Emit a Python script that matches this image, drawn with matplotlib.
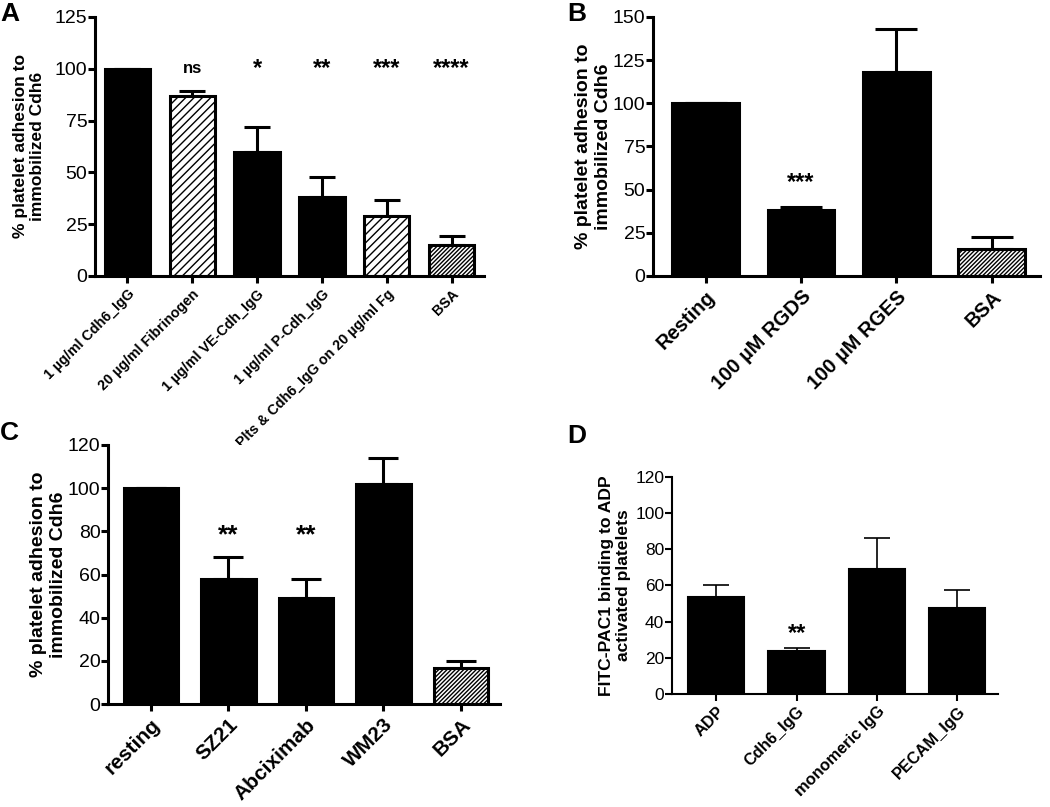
import numpy as np
import matplotlib
matplotlib.use("Agg")
import matplotlib.pyplot as plt

plt.rcParams['font.family'] = ['Liberation Sans', 'DejaVu Sans']
plt.rcParams['hatch.linewidth'] = 1.0

# panel A
a_labels = ['1 µg/ml Cdh6_IgG', '20 µg/ml Fibrinogen', '1 µg/ml VE-Cdh_IgG',
            '1 µg/ml P-Cdh_IgG', 'Plts & Cdh6_IgG on 20 µg/ml Fg', 'BSA']
a_values = [100, 87, 60, 38, 29, 15]
a_err = [0, 2.5, 12, 10, 7.5, 4.5]
a_stars = ['', 'ns', '*', '**', '***', '****']
a_hatch = ['', '////', '', '', '////', '////////']

# panel B
b_labels = ['Resting', '100 µM RGDS', '100 µM RGES', 'BSA']
b_values = [100, 38.5, 118, 15.5]
b_err = [0, 1.5, 25, 7]
b_stars = ['', '***', '', '']
b_hatch = ['', '', '', '////////']

# panel C
c_labels = ['resting', 'SZ21', 'Abciximab', 'WM23', 'BSA']
c_values = [100, 58, 49, 102, 16.5]
c_err = [0, 10, 9, 12, 3.5]
c_stars = ['', '**', '**', '', '']
c_hatch = ['', '', '', '', '////////']

# panel D
d_labels = ['ADP', 'Cdh6_IgG', 'monomeric IgG', 'PECAM_IgG']
d_values = [53.5, 24, 69, 47.5]
d_err = [7, 1.5, 17, 10]
d_stars = ['', '**', '', '']
d_hatch = ['', '', '', '']


def bar_panel(ax, labels, values, err, hatch, ymax, yticks, tick_fs, lab_fs,
              ylabel, ylab_fs, ylab_x, stars, star_y, star_fs, cap,
              lw=2.2, elw=2.2, xl=-0.55, xpad=3):
    x = np.arange(len(values))
    for i in x:
        face = 'white' if hatch[i] else 'black'
        ax.bar(i, values[i], width=0.7, color=face, edgecolor='black',
               hatch=hatch[i], linewidth=lw, zorder=2)
    up = np.array(err)
    ax.errorbar(x, values, yerr=[np.zeros_like(up), up], fmt='none',
                ecolor='black', elinewidth=elw, capsize=cap, capthick=elw, zorder=1)
    for i, s in enumerate(stars):
        if s:
            fs = 12 if s == 'ns' else star_fs
            ax.text(i, star_y, s, ha='center', va='center', fontsize=fs,
                    fontweight='bold')
    ax.set_ylim(0, ymax)
    ax.set_xlim(xl, len(values) - 0.5)
    ax.set_yticks(yticks)
    ax.tick_params(axis='y', labelsize=tick_fs, width=lw, length=5, pad=0.5)
    ax.set_xticks(x)
    ax.set_xticklabels(labels, rotation=45, ha='right', rotation_mode='anchor',
                       fontsize=lab_fs, fontweight='bold')
    ax.tick_params(axis='x', width=lw, length=5, pad=xpad)
    for s in ['top', 'right']:
        ax.spines[s].set_visible(False)
    for s in ['left', 'bottom']:
        ax.spines[s].set_linewidth(lw)
    ax.set_ylabel(ylabel, fontsize=ylab_fs, fontweight='bold')
    ax.yaxis.set_label_coords(ylab_x, 0.5)


fig = plt.figure(figsize=(10.5, 8.07), dpi=100)

axA = fig.add_axes([0.0905, 0.658, 0.3705, 0.321])
bar_panel(axA, a_labels, a_values, a_err, a_hatch, 125, [0, 25, 50, 75, 100, 125],
          14, 10.3, '% platelet adhesion to\nimmobilized Cdh6', 12.5, -0.128,
          a_stars, 100, 17, 9.7, xl=-0.5)

axB = fig.add_axes([0.622, 0.658, 0.368, 0.321])
bar_panel(axB, b_labels, b_values, b_err, b_hatch, 150, [0, 25, 50, 75, 100, 125, 150],
          14, 14.5, '% platelet adhesion to\nimmobilized Cdh6', 14, -0.107,
          b_stars, 54, 17, 15)

axC = fig.add_axes([0.103, 0.1276, 0.373, 0.321])
bar_panel(axC, c_labels, c_values, c_err, c_hatch, 120, [0, 20, 40, 60, 80, 100, 120],
          14, 15, '% platelet adhesion to\nimmobilized Cdh6', 14, -0.105,
          c_stars, 78, 19, 10.5)

axD = fig.add_axes([0.640, 0.140, 0.310, 0.269])
bar_panel(axD, d_labels, d_values, d_err, d_hatch, 120, [0, 20, 40, 60, 80, 100, 120],
          12.5, 11.8, 'FITC-PAC1 binding to ADP\nactivated platelets', 12.6, -0.125,
          d_stars, 33.5, 17, 9.5, lw=1.5, elw=1.2, xpad=2)

for lab, (x, y) in zip('ABCD', [(0.0, 0.997), (0.540, 0.997), (0.0, 0.478), (0.540, 0.474)]):
    fig.text(x, y, lab, fontsize=19, fontweight='bold', ha='left', va='top')

fig.savefig('out.png', dpi=100)
